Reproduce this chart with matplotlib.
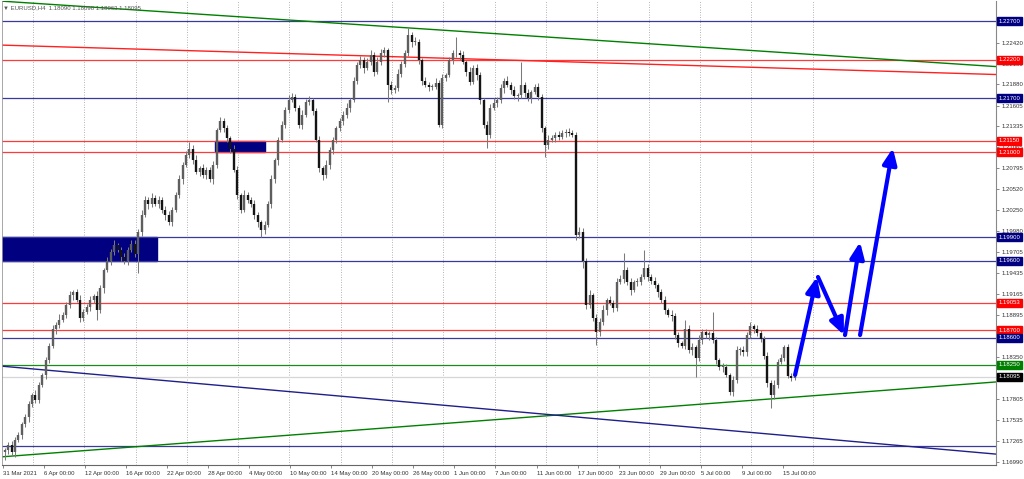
import numpy as np
import matplotlib.pyplot as plt
from matplotlib.patches import Rectangle

# EURUSD, 8h candles (31 Mar - 15 Jul 2021)
first_open = 1.1712
closes = [
    1.1715, 1.1721, 1.1712, 1.1728, 1.1734, 1.1748, 1.1757, 1.1774, 1.1786, 1.1780, 1.1799, 1.1812,
    1.1831, 1.1850, 1.1871, 1.1877, 1.1883, 1.1890, 1.1903, 1.1915, 1.1919, 1.1909, 1.1886, 1.1894,
    1.1900, 1.1909, 1.1914, 1.1896, 1.1924, 1.1948, 1.1959, 1.1971, 1.1980, 1.1974, 1.1965, 1.1959,
    1.1974, 1.1982, 1.1968, 1.1997, 1.2019, 1.2039, 1.2033, 1.2041, 1.2033, 1.2039, 1.2026, 1.2019,
    1.2010, 1.2026, 1.2045, 1.2065, 1.2084, 1.2097, 1.2105, 1.2090, 1.2075, 1.2080, 1.2071, 1.2077,
    1.2065, 1.2084, 1.2129, 1.2140, 1.2131, 1.2118, 1.2105, 1.2077, 1.2045, 1.2026, 1.2045, 1.2039,
    1.2033, 1.2019, 1.2010, 1.1999, 1.2006, 1.2033, 1.2065, 1.2090, 1.2116, 1.2136, 1.2155, 1.2168,
    1.2172, 1.2158, 1.2136, 1.2149, 1.2165, 1.2168, 1.2153, 1.2116, 1.2080, 1.2071, 1.2084, 1.2103,
    1.2116, 1.2131, 1.2140, 1.2149, 1.2158, 1.2168, 1.2193, 1.2213, 1.2219, 1.2209, 1.2217, 1.2226,
    1.2204, 1.2217, 1.2229, 1.2232, 1.2187, 1.2181, 1.2183, 1.2202, 1.2215, 1.2228, 1.2252, 1.2243,
    1.2243, 1.2219, 1.2193, 1.2187, 1.2185, 1.2185, 1.2190, 1.2136, 1.2196, 1.2200, 1.2219, 1.2228,
    1.2229, 1.2226, 1.2217, 1.2204, 1.2191, 1.2209, 1.2200, 1.2168, 1.2136, 1.2123, 1.2158, 1.2164,
    1.2168, 1.2183, 1.2193, 1.2187, 1.2181, 1.2173, 1.2174, 1.2187, 1.2177, 1.2170, 1.2178, 1.2185,
    1.2172, 1.2131, 1.2109, 1.2116, 1.2118, 1.2123, 1.2120, 1.2125, 1.2127, 1.2125, 1.2123, 1.1993,
    1.1997, 1.1959, 1.1903, 1.1915, 1.1886, 1.1867, 1.1881, 1.1896, 1.1909, 1.1905, 1.1899, 1.1932,
    1.1936, 1.1948, 1.1932, 1.1922, 1.1932, 1.1932, 1.1939, 1.1951, 1.1939, 1.1933, 1.1928, 1.1919,
    1.1909, 1.1896, 1.1890, 1.1888, 1.1863, 1.1853, 1.1850, 1.1872, 1.1844, 1.1848, 1.1834, 1.1857,
    1.1867, 1.1863, 1.1866, 1.1857, 1.1831, 1.1822, 1.1822, 1.1812, 1.1790, 1.1805, 1.1844, 1.1844,
    1.1841, 1.1863, 1.1875, 1.1872, 1.1866, 1.1859, 1.1837, 1.1802, 1.1786, 1.1799, 1.1829, 1.1834,
    1.1848, 1.1811, 1.1808, 1.18095,
]
# wick lengths in pips above / below the body
wick_up = [
    3, 4, 5, 3, 4, 3, 5, 4, 3, 6, 4, 3,
    4, 3, 5, 4, 8, 4, 3, 5, 3, 4, 6, 3,
    4, 5, 3, 6, 4, 3, 5, 4, 6, 3, 4, 5,
    3, 4, 5, 4, 6, 5, 3, 7, 4, 5, 3, 4,
    5, 3, 4, 6, 4, 5, 8, 4, 6, 3, 5, 4,
    4, 5, 3, 6, 4, 5, 3, 4, 5, 3, 6, 4,
    3, 5, 4, 3, 5, 4, 6, 3, 4, 5, 4, 6,
    5, 4, 3, 6, 4, 5, 3, 4, 5, 3, 6, 4,
    4, 3, 5, 4, 6, 3, 5, 4, 6, 4, 5, 7,
    4, 6, 5, 4, 3, 5, 4, 6, 3, 5, 9, 4,
    6, 4, 3, 5, 4, 3, 6, 4, 5, 3, 4, 5,
    20, 4, 5, 3, 6, 4, 5, 4, 3, 5, 4, 6,
    4, 5, 3, 6, 4, 5, 3, 30, 4, 5, 3, 4,
    5, 4, 3, 6, 4, 3, 5, 4, 3, 5, 4, 3,
    6, 5, 4, 7, 3, 5, 4, 6, 3, 5, 4, 6,
    5, 22, 4, 6, 3, 5, 4, 23, 5, 4, 6, 3,
    4, 5, 3, 6, 4, 5, 3, 11, 4, 5, 3, 6,
    4, 5, 3, 27, 4, 3, 5, 4, 3, 5, 6, 4,
    5, 4, 6, 3, 5, 4, 3, 5, 4, 6, 4, 5,
    3, 4, 3, 2,
]
wick_dn = [
    10, 5, 4, 6, 3, 5, 4, 6, 3, 5, 4, 3,
    5, 4, 3, 6, 4, 3, 5, 4, 6, 3, 5, 4,
    3, 5, 4, 13, 4, 6, 3, 5, 4, 3, 6, 4,
    5, 3, 4, 24, 5, 3, 6, 4, 3, 5, 4, 6,
    4, 5, 3, 4, 6, 3, 4, 5, 3, 6, 4, 5,
    3, 6, 4, 3, 5, 4, 6, 3, 5, 4, 3, 5,
    4, 5, 6, 9, 4, 3, 5, 4, 6, 3, 5, 4,
    3, 5, 4, 6, 3, 4, 5, 3, 6, 7, 4, 5,
    5, 4, 3, 5, 4, 6, 3, 5, 4, 6, 3, 4,
    5, 3, 4, 6, 22, 5, 4, 3, 5, 4, 3, 6,
    4, 5, 6, 3, 5, 4, 3, 3, 5, 4, 3, 5,
    4, 6, 3, 5, 4, 3, 6, 5, 4, 17, 5, 3,
    5, 4, 6, 3, 5, 4, 6, 3, 5, 4, 6, 3,
    4, 5, 15, 4, 3, 5, 4, 3, 5, 4, 3, 6,
    4, 8, 6, 5, 4, 16, 5, 4, 6, 3, 5, 4,
    3, 5, 4, 6, 3, 5, 4, 3, 5, 4, 3, 6,
    4, 5, 3, 6, 4, 5, 3, 5, 4, 6, 25, 4,
    5, 3, 6, 4, 5, 4, 6, 3, 4, 5, 4, 6,
    4, 5, 3, 6, 4, 5, 4, 6, 17, 5, 4, 3,
    4, 3, 4, 3,
]

date_labels = ["31 Mar 2021", "6 Apr 00:00", "12 Apr 00:00", "16 Apr 00:00", "22 Apr 00:00",
               "28 Apr 00:00", "4 May 00:00", "10 May 00:00", "14 May 00:00", "20 May 00:00",
               "26 May 00:00", "1 Jun 00:00", "7 Jun 00:00", "11 Jun 00:00", "17 Jun 00:00",
               "23 Jun 00:00", "29 Jun 00:00", "5 Jul 00:00", "9 Jul 00:00", "15 Jul 00:00"]
# scale labels that are visible (1.18620 / 1.18080 sit under price tags)
price_ticks = [1.22420, 1.22150, 1.21880, 1.21605, 1.21335, 1.21065, 1.20795, 1.20520,
               1.20250, 1.19980, 1.19705, 1.19435, 1.19165, 1.18895, 1.18350,
               1.17805, 1.17535, 1.17265, 1.16990]

levels_navy = [1.22700, 1.21700, 1.19900, 1.19600, 1.18600, 1.17200]
levels_red = [1.22200, 1.21150, 1.21000, 1.19053, 1.18700]
levels_green = [1.18250]
bid = 1.18095

# trend lines: two anchor points (candle index, price)
trend_lines = [
    ((7.4, 1.22933), (289.6, 1.22111), "#008000"),
    ((0.1, 1.22387), (289.6, 1.22008), "#ff2020"),
    ((-1.37, 1.17058), (289.6, 1.18028), "#008000"),
    ((-1.37, 1.18235), (289.6, 1.17096), "#1f1f8a"),
]
zones = [(-5.0, 44.5, 1.19600, 1.19900), (61.5, 76.1, 1.21000, 1.21150)]
arrows = [
    ((231.1, 1.18119), (237.5, 1.19387)),
    ((237.8, 1.19387), (245.4, 1.18636)),
    ((245.7, 1.18636), (250.1, 1.19840)),
    ((250.1, 1.18636), (259.7, 1.21056)),
]
tags = [(1.22700, "#000080"), (1.22200, "#ff0000"), (1.21700, "#000080"),
        (1.21150, "#ff0000"), (1.21000, "#ff0000"), (1.19900, "#000080"),
        (1.19600, "#000080"), (1.19053, "#ff0000"), (1.18700, "#ff0000"),
        (1.18600, "#000080"), (1.18250, "#008000"), (1.18095, "#000000")]

plt.rcParams['font.family'] = ['Liberation Sans', 'DejaVu Sans']

fig = plt.figure(figsize=(10.24, 4.79), dpi=100)
ax = fig.add_axes([2 / 1024, 14 / 479, 994 / 1024, 464 / 479])
ax.set_xlim(-0.79, 289.85)
ax.set_ylim(1.16954, 1.22959)

# dotted vertical grid
grid_x = list(8.27 + 15 * np.arange(15)) + [236.3]
for gx in grid_x:
    ax.axvline(gx, color="#9a9a9a", lw=0.6, ls=(0, (1, 2)), zorder=1)

for x0, x1, p0, p1 in zones:
    ax.add_patch(Rectangle((x0, p0), x1 - x0, p1 - p0, fc="#000080", ec="#000080", zorder=2))

for p in levels_navy:
    ax.axhline(p, color="#3a3a9e", lw=0.9, zorder=2.2)
for p in levels_red:
    ax.axhline(p, color="#ff3a3a", lw=0.9, zorder=2.2)
for p in levels_green:
    ax.axhline(p, color="#1a8a1a", lw=0.9, zorder=2.2)
ax.axhline(bid, color="#d6d6d6", lw=0.9, zorder=2.1)

for a, b, c in trend_lines:
    ax.axline(a, b, color=c, lw=1.0, zorder=2.3)

# candles
closes = np.array(closes)
opens = np.concatenate([[first_open], closes[:-1]])
highs = np.maximum(opens, closes) + np.array(wick_up) * 1e-4
lows = np.minimum(opens, closes) - np.array(wick_dn) * 1e-4
idx = np.arange(len(closes))
ax.vlines(idx, lows, highs, color="#7a7a7a", lw=0.75, zorder=3)
top = np.maximum(opens, closes)
bot = np.minimum(opens, closes)
top = np.where(top - bot < 0.0001, bot + 0.0001, top)
up = closes >= opens
ax.vlines(idx[up], bot[up], top[up], color="#5e5e5e", lw=1.7, zorder=4)
ax.vlines(idx[~up], bot[~up], top[~up], color="#141414", lw=1.7, zorder=4)

for s, e in arrows:
    ax.annotate("", xy=e, xytext=s, zorder=6,
                arrowprops=dict(arrowstyle="-|>,head_length=0.8,head_width=0.35",
                                color="#0000ff", lw=3, mutation_scale=12,
                                shrinkA=0, shrinkB=0))

# axes
ax.set_xticks(12 * np.arange(len(date_labels)) - 0.5, date_labels)
for t in ax.get_xticklabels():
    t.set_ha("left")
ax.tick_params(axis="x", length=2.5, width=0.5, color="#555555", pad=1.5,
               labelsize=4.3, labelcolor="#333333")
ax.yaxis.tick_right()
ax.set_yticks(price_ticks, [f"{v:.5f}" for v in price_ticks])
ax.tick_params(axis="y", length=2.5, width=0.5, color="#555555", pad=1.5,
               labelsize=4.3, labelcolor="#333333")
ax.spines["top"].set_visible(False)
ax.spines["left"].set_color("#999999")
ax.spines["left"].set_linewidth(0.6)
ax.spines["right"].set_color("#888888")
ax.spines["right"].set_linewidth(0.8)
ax.spines["bottom"].set_color("#666666")
ax.spines["bottom"].set_linewidth(0.8)

for p, c in tags:
    ax.text(1.0025, p, f"{p:.5f}", transform=ax.get_yaxis_transform(), ha="left",
            va="center", fontsize=4.3, color="white", clip_on=False, zorder=10,
            bbox=dict(boxstyle="square,pad=0.25", fc=c, ec=c))

fig.text(3 / 1024, 1 - 8 / 479, "▼ EURUSD,H4  1.18090 1.18098 1.18063 1.18095",
         fontsize=4.3, color="#555555", va="center", ha="left")

fig.savefig("out.png", dpi=100, facecolor="white")
